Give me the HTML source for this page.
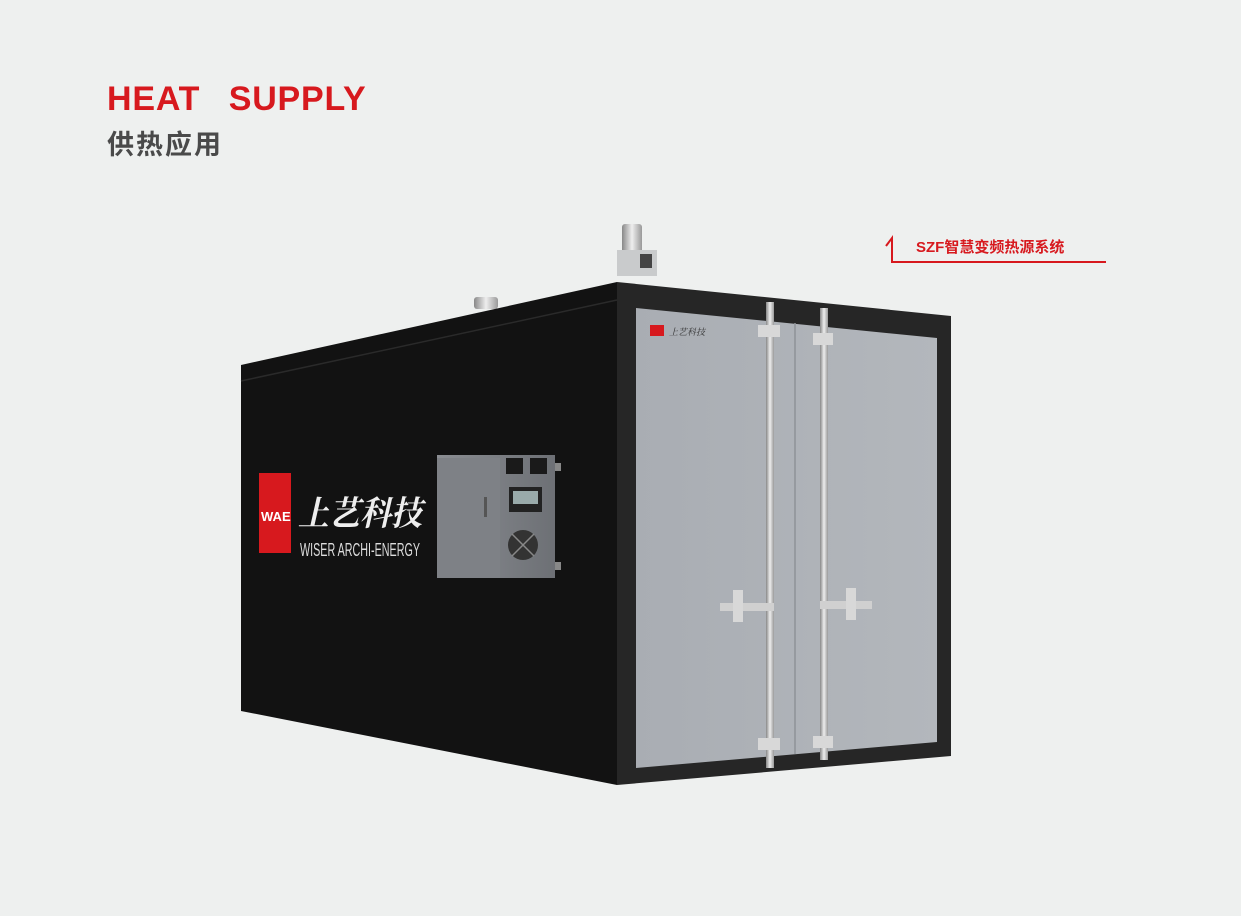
<!DOCTYPE html>
<html><head><meta charset="utf-8"><style>
html,body{margin:0;padding:0;background:#eef0ef;}
body{width:1241px;height:916px;position:relative;overflow:hidden;font-family:"Liberation Sans","Noto Sans CJK SC",sans-serif;}
.t1{position:absolute;left:107px;top:80px;font-size:34px;font-weight:bold;color:#d7191e;letter-spacing:0.8px;word-spacing:4px;}
.t2{position:absolute;left:107px;top:123px;font-size:27px;font-weight:bold;color:#4a4a4a;letter-spacing:2px;}
</style></head><body>
<div class="t1">HEAT&nbsp; SUPPLY</div>
<div class="t2">供热应用</div>
<svg width="1241" height="916" style="position:absolute;left:0;top:0">
<defs>
<linearGradient id="door" x1="0" x2="1" y1="0" y2="0"><stop offset="0" stop-color="#a9adb3"/><stop offset="1" stop-color="#b3b7bc"/></linearGradient>
<linearGradient id="box" x1="0" x2="1"><stop offset="0" stop-color="#8a8d92"/><stop offset="1" stop-color="#6d7075"/></linearGradient>
<linearGradient id="pipe" x1="0" x2="1"><stop offset="0" stop-color="#888"/><stop offset=".5" stop-color="#eee"/><stop offset="1" stop-color="#999"/></linearGradient>
</defs>
<polyline points="886,246 892,238 892,262 1106,262" fill="none" stroke="#d7191e" stroke-width="2"/>
<text x="916" y="252" font-size="15" font-weight="bold" fill="#d7191e" font-family="Liberation Sans,Noto Sans CJK SC,sans-serif">SZF智慧变频热源系统</text>
<rect x="474" y="297" width="24" height="12" rx="3" fill="url(#pipe)"/>
<rect x="622" y="224" width="20" height="34" rx="3" fill="url(#pipe)"/>
<rect x="617" y="250" width="40" height="26" fill="#c9cbcc"/>
<rect x="640" y="254" width="12" height="14" fill="#444"/>
<polygon points="241,365 617,282 617,785 241,711" fill="#121212"/>
<line x1="241" y1="381" x2="617" y2="300" stroke="#2a2a2a" stroke-width="1.5"/>
<polygon points="617,282 951,316 951,756 617,785" fill="#262626"/>
<polygon points="636,308 937,338 937,742 636,768" fill="url(#door)"/>
<line x1="795" y1="323" x2="795" y2="754" stroke="#8e9297" stroke-width="1.5"/>
<rect x="650" y="325" width="14" height="11" fill="#d7191e"/>
<text x="669" y="335" font-size="9" fill="#333" font-family="Noto Serif CJK SC,serif" font-style="italic">上艺科技</text>
<rect x="766" y="302" width="8" height="466" fill="url(#pipe)"/>
<rect x="820" y="308" width="8" height="452" fill="url(#pipe)"/>
<rect x="758" y="325" width="22" height="12" fill="#d8d8d8"/>
<rect x="813" y="333" width="20" height="12" fill="#d8d8d8"/>
<rect x="758" y="738" width="22" height="12" fill="#d8d8d8"/>
<rect x="813" y="736" width="20" height="12" fill="#d8d8d8"/>
<rect x="720" y="603" width="54" height="8" fill="#d0d0d0"/>
<rect x="733" y="590" width="10" height="32" fill="#d8d8d8"/>
<rect x="820" y="601" width="52" height="8" fill="#d0d0d0"/>
<rect x="846" y="588" width="10" height="32" fill="#d8d8d8"/>
<rect x="259" y="473" width="32" height="80" fill="#d7191e"/>
<text x="261" y="521" font-size="13" font-weight="bold" fill="#fff">WAE</text>
<text x="298" y="525" font-size="34" fill="#eee" font-family="Noto Serif CJK SC,serif" font-weight="bold" font-style="italic" textLength="124" lengthAdjust="spacingAndGlyphs">上艺科技</text>
<text x="300" y="556" font-size="18" fill="#ddd" textLength="120" lengthAdjust="spacingAndGlyphs">WISER ARCHI-ENERGY</text>
<rect x="437" y="455" width="118" height="123" fill="url(#box)"/>
<rect x="437" y="458" width="63" height="120" fill="#7e8186"/>
<rect x="484" y="497" width="3" height="20" fill="#555"/>
<rect x="506" y="458" width="17" height="16" fill="#1a1a1a"/>
<rect x="530" y="458" width="17" height="16" fill="#1a1a1a"/>
<rect x="509" y="487" width="33" height="25" fill="#222"/>
<rect x="513" y="491" width="25" height="13" fill="#9aa"/>
<circle cx="523" cy="545" r="15" fill="#333"/>
<path d="M512,534 L534,556 M534,534 L512,556" stroke="#888" stroke-width="1.5"/>
<rect x="555" y="463" width="6" height="8" fill="#888"/>
<rect x="555" y="562" width="6" height="8" fill="#888"/>
</svg>
</body></html>
